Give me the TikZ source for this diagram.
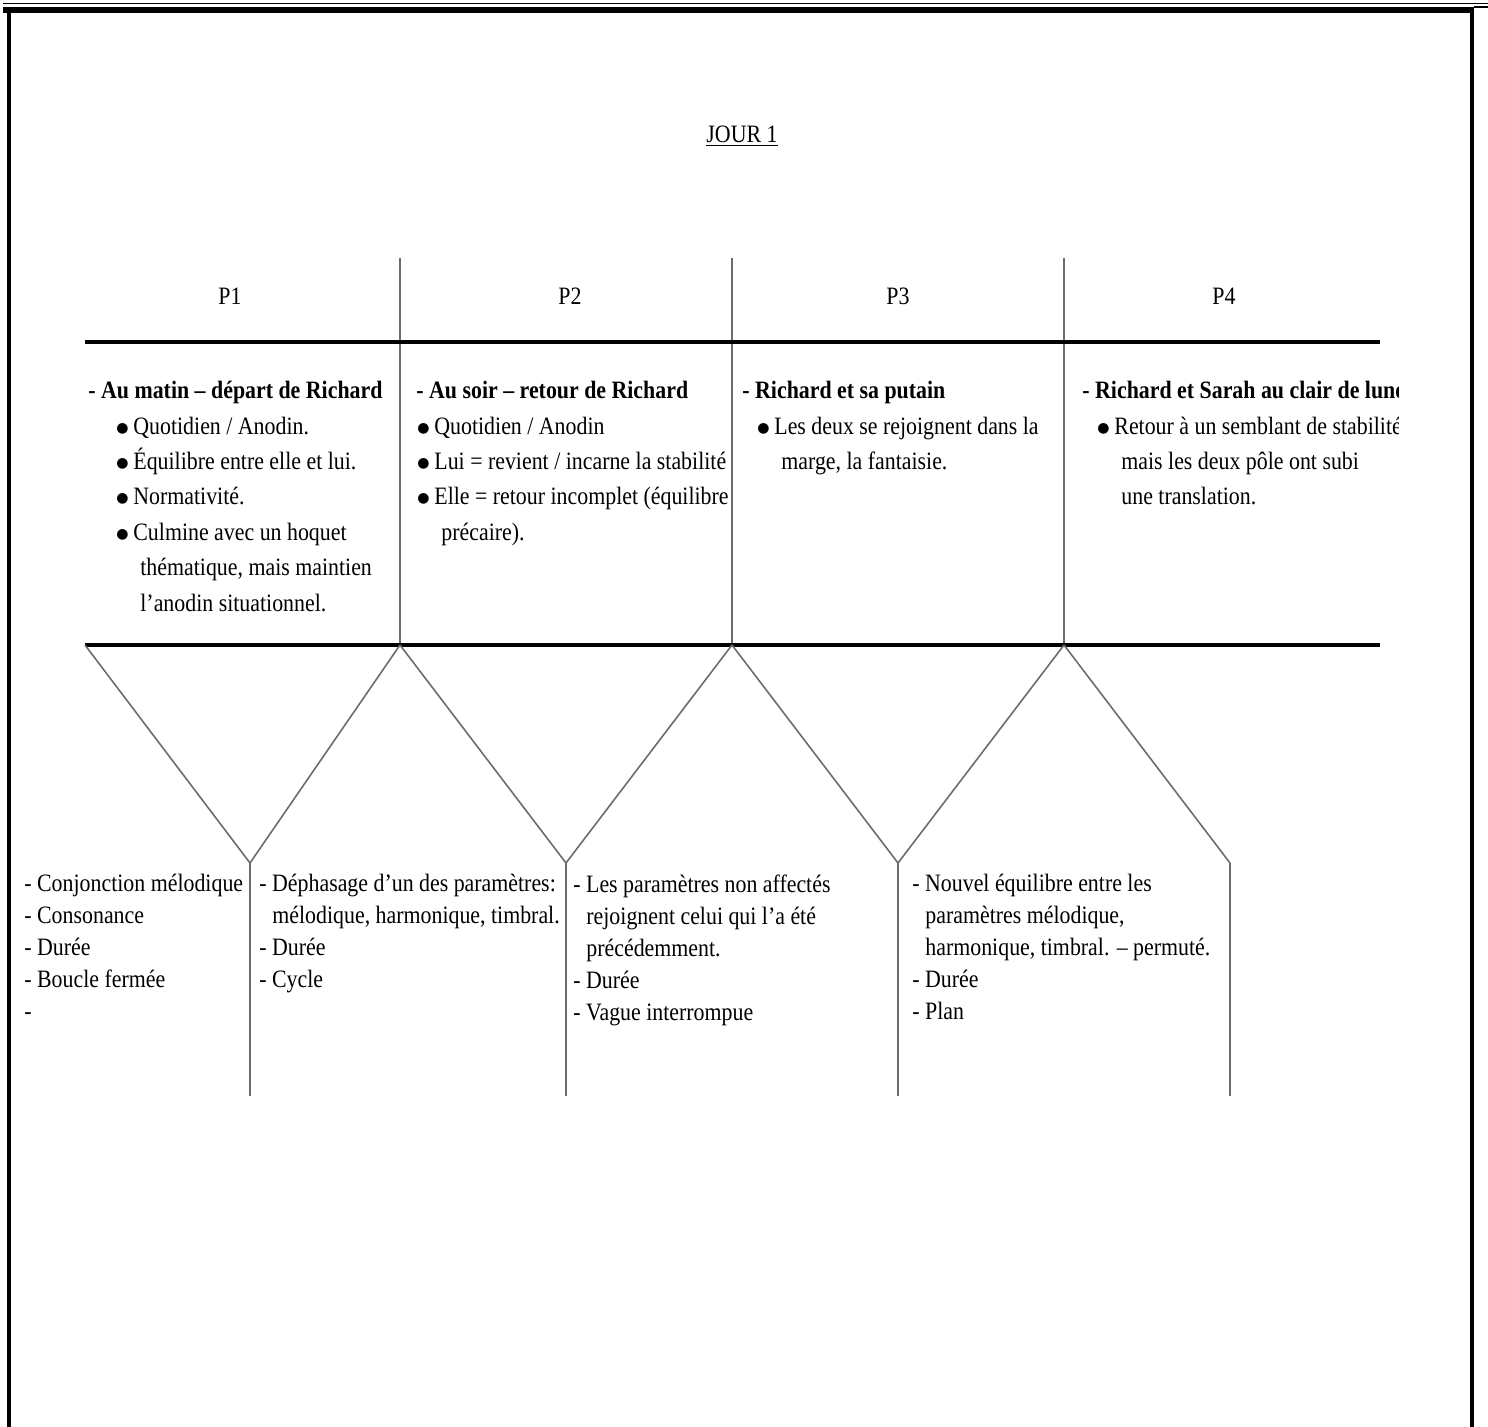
\documentclass[tikz,border=0pt]{standalone}
\usepackage{fontspec}
\setmainfont{Liberation Serif}[FakeStretch=0.875]
\newfontfamily\symbfont{DejaVu Sans}
\usetikzlibrary{positioning}
\newcommand{\puce}{\makebox[8pt][l]{\hspace*{-0.5pt}\raisebox{1pt}{\symbfont\fontsize{7}{7}\selectfont ●}}}

\begin{document}
\begin{tikzpicture}[x=0.5pt,y=-0.5pt,
    trait/.style={draw=gray!85!black, line width=0.8pt},
    barre/.style={line width=2pt},
    bloc/.style={align=left, anchor=north west, inner sep=0pt, font=\fontsize{12.5}{17.7}\selectfont},
    bas/.style={align=left, anchor=north west, inner sep=0pt, font=\fontsize{12.5}{16}\selectfont},
    titre/.style={inner sep=0pt, font=\fontsize{12.5}{15}\selectfont}]
        \useasboundingbox (0,0) rectangle (1488,1427);
        %cadre de la page
        \draw[line width=0.75pt] (3,3.3)-- (1488,3.3);
        \draw[line width=3pt] (3,9.7)-- (1474,9.7);
        \draw[line width=0.6pt] (1474,7)-- (1488,7);
        \draw[line width=1.9pt] (9.2,8)-- (9.2,1427);
        \draw[line width=2pt] (1472,8)-- (1472,1427);
        %titre
        \node[titre] (jour) at (742,136) {\underline{JOUR 1}};
        %points de repere
        \coordinate (h1) at (400,258);
        \coordinate (h2) at (732,258);
        \coordinate (h3) at (1064,258);
        \coordinate (j0) at (85,645);
        \coordinate (j1) at (400,645);
        \coordinate (j2) at (732,645);
        \coordinate (j3) at (1064,645);
        \coordinate (fin) at (1380,645);
        \coordinate (v1) at (250,863);
        \coordinate (v2) at (566,863);
        \coordinate (v3) at (898,863);
        \coordinate (v4) at (1230,863);
        \coordinate (b1) at (250,1096);
        \coordinate (b2) at (566,1096);
        \coordinate (b3) at (898,1096);
        \coordinate (b4) at (1230,1096);
        %separations des parties
        \draw[trait] (h1)-- (j1);
        \draw[trait] (h2)-- (j2);
        \draw[trait] (h3)-- (j3);
        \draw[barre] (85,342)-- (1380,342);
        \draw[barre] (j0)-- (fin);
        %les V
        \draw[trait] (j0)-- (v1)-- (j1);
        \draw[trait] (j1)-- (v2)-- (j2);
        \draw[trait] (j2)-- (v3)-- (j3);
        \draw[trait] (j3)-- (v4);
        \foreach \i in {1,...,4}
            \draw[trait] (v\i)-- (b\i);
        %en-tetes
        \node[titre] (p1) at (230,296) {P1};
        \node[titre] (p2) at (570,296) {P2};
        \node[titre] (p3) at (898,296) {P3};
        \node[titre] (p4) at (1224,296) {P4};
        %contenu des parties
        \node[bloc] (c1) at (88,381) {\textbf{- Au matin -- départ de Richard}\\
            \hspace*{14.5pt}\puce Quotidien / Anodin.\\
            \hspace*{14.5pt}\puce Équilibre entre elle et lui.\\
            \hspace*{14.5pt}\puce Normativité.\\
            \hspace*{14.5pt}\puce Culmine avec un hoquet\\
            \hspace*{26pt}thématique, mais maintien\\
            \hspace*{26pt}l’anodin situationnel.};
        \begin{scope}
        \clip (400,360) rectangle (731,560);
        \node[bloc] (c2) at (416,381) {\textbf{- Au soir -- retour de Richard}\\
            \hspace*{1pt}\puce Quotidien / Anodin\\
            \hspace*{1pt}\puce Lui = revient / incarne la stabilité\\
            \hspace*{1pt}\puce Elle = retour incomplet (équilibre\\
            \hspace*{12.5pt}précaire).};
        \end{scope}
        \node[bloc] (c3) at (742,381) {\textbf{- Richard et sa putain}\\
            \hspace*{8pt}\puce Les deux se rejoignent dans la\\
            \hspace*{19.5pt}marge, la fantaisie.};
        \begin{scope}
        \clip (1064,360) rectangle (1398,520);
        \node[bloc] (c4) at (1082,381) {\textbf{- Richard et Sarah au clair de lune}\\
            \hspace*{8pt}\puce Retour à un semblant de stabilité\\
            \hspace*{19.5pt}mais les deux pôle ont subi\\
            \hspace*{19.5pt}une translation.};
        \end{scope}
        %parametres musicaux
        \node[bas] (m1) at (24,874) {- Conjonction mélodique\\
            - Consonance\\
            - Durée\\
            - Boucle fermée\\
            -};
        \node[bas] (m2) at (259,874) {- Déphasage d’un des paramètres:\\
            \hspace*{6.5pt}mélodique, harmonique, timbral.\\
            - Durée\\
            - Cycle};
        \node[bas] (m3) at (573,874) {- Les paramètres non affectés\\
            \hspace*{6.5pt}rejoignent celui qui l’a été\\
            \hspace*{6.5pt}précédemment.\\
            - Durée\\
            - Vague interrompue};
        \node[bas] (m4) at (912,874) {- Nouvel équilibre entre les\\
            \hspace*{6.5pt}paramètres mélodique,\\
            \hspace*{6.5pt}harmonique, timbral. -- permuté.\\
            - Durée\\
            - Plan};
    \end{tikzpicture}
\end{document}
